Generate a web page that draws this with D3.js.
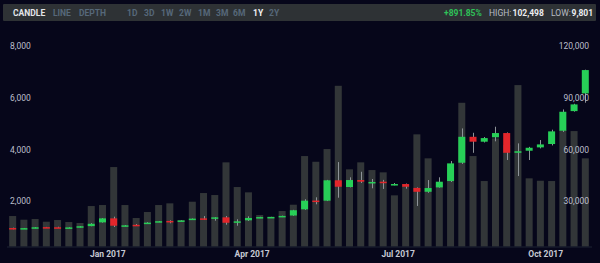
<!DOCTYPE html>
<html>
<head>
<meta charset="utf-8">
<script src="https://cdn.jsdelivr.net/npm/d3@7/dist/d3.min.js"></script>
<style>
  html, body { margin: 0; padding: 0; background: #06061a; }
  svg { display: block; font-family: Roboto, "Noto Sans", sans-serif; }
</style>
</head>
<body>
<script>
// weekly candles, one year
var weeks = ["2016-11-03","2016-11-10","2016-11-17","2016-11-24","2016-12-01","2016-12-08","2016-12-15","2016-12-22","2016-12-29",
  "2017-01-05","2017-01-12","2017-01-19","2017-01-26","2017-02-02","2017-02-09","2017-02-16","2017-02-23",
  "2017-03-02","2017-03-09","2017-03-16","2017-03-23","2017-03-30","2017-04-06","2017-04-13","2017-04-20","2017-04-27",
  "2017-05-04","2017-05-11","2017-05-18","2017-05-25","2017-06-01","2017-06-08","2017-06-15","2017-06-22","2017-06-29",
  "2017-07-06","2017-07-13","2017-07-20","2017-07-27","2017-08-03","2017-08-10","2017-08-17","2017-08-24","2017-08-31",
  "2017-09-07","2017-09-14","2017-09-21","2017-09-28","2017-10-05","2017-10-12","2017-10-19","2017-10-26"];

var opens  = [716,690,712,750,745,725,740,790,935,1090,790,840,900,950,990,985,1040,1090,1090,1130,950,1015,1110,1125,1150,1200,
  1440,1780,1775,2565,2305,2575,2470,2510,2395,2420,2270,2120,2290,2535,3245,4250,4060,4230,4395,3630,3710,3840,3970,4485,5245,5930];
var highs  = [730,718,750,758,765,745,792,905,1100,1155,830,870,940,985,1015,1015,1085,1180,1135,1180,1055,1170,1150,1150,1195,1420,
  1830,1905,2580,3270,2680,2895,2615,2580,2460,2440,2290,2575,2680,3310,4575,4405,4240,4640,4420,3995,3860,4125,4525,5310,5530,6850];
var lows   = [665,685,705,728,715,718,735,785,925,755,780,810,890,945,900,980,1035,1025,1000,845,805,990,1100,1115,1140,1190,
  1420,1635,1760,1890,2290,2460,2255,2230,2370,2240,1570,2080,2280,2500,3200,3630,4030,4075,3350,2730,3350,3800,3915,4440,5225,5570];
var closes = [680,712,745,735,725,740,785,880,1090,805,820,825,925,980,965,1010,1080,1070,1130,920,975,1105,1140,1145,1185,1405,
  1775,1740,2565,2315,2575,2510,2500,2470,2420,2315,2120,2265,2510,3220,4250,4060,4200,4395,3630,3690,3825,3955,4460,5220,5505,6835];
var volumes = [17710,15570,15970,14400,15390,14230,13650,23520,24100,46170,24100,16550,20040,24100,25090,15390,26020,31070,29910,
  48900,34560,31480,18300,17310,20620,24280,52560,49250,56630,93390,44840,48900,44430,43100,29740,35140,65170,51230,36880,44430,
  83520,52560,38040,62840,58950,93800,39610,38220,38040,67660,67080,51230];

var priceTicks = [2000,4000,6000,8000];
var volumeTicks = [30000,60000,90000,120000];
var monthTicks = ["2017-01-01","2017-04-01","2017-07-01","2017-10-01"];

var chartTypes = ["CANDLE","LINE","DEPTH"];
var ranges = ["1D","3D","1W","2W","1M","3M","6M","1Y","2Y"];

var w = 600,
    h = 263,
    base = 246.5,
    barW = 7;

var green = "#27cf57",
    red = "#e3262b";

var svg = d3.select("body").append("svg")
    .attr("width", w)
    .attr("height", h);

svg.append("rect").attr("width", w).attr("height", h).attr("fill", "#06061a");

var parse = d3.utcParse("%Y-%m-%d");

var x = d3.scaleUtc()
    .domain([parse("2017-01-01"), parse("2017-10-01")])
    .range([107.3, 545.2]);

var y = d3.scaleLinear().domain([0, 8000]).range([base, 40]);
var yv = d3.scaleLinear().domain([0, 120000]).range([base, 40]);

var data = weeks.map(function(d, i) {
  return {date: parse(d), o: opens[i], h: highs[i], l: lows[i], c: closes[i], v: volumes[i]};
});

// top toolbar
svg.append("rect")
    .attr("x", 3).attr("y", 4)
    .attr("width", 593).attr("height", 17)
    .attr("rx", 1)
    .attr("fill", "#2e3235");

var tb = svg.append("g").attr("font-size", 8.5).attr("font-weight", "bold");
var typeX = [13, 53, 79];
chartTypes.forEach(function(t, i) {
  tb.append("text").attr("x", typeX[i]).attr("y", 16)
    .attr("fill", i == 0 ? "#e4e6ea" : "#56687a").text(t);
});
var rangeX = [127, 144, 161, 179, 198, 216, 233, 253, 269];
ranges.forEach(function(t, i) {
  tb.append("text").attr("x", rangeX[i]).attr("y", 16)
    .attr("fill", t == "1Y" ? "#f2f3f5" : "#56687a").text(t);
});

var stats = svg.append("g").attr("font-size", 8.5);
stats.append("text").attr("x", 444).attr("y", 16).attr("font-weight", "bold").attr("fill", "#2fc259").text("+891.85%");
stats.append("text").attr("x", 489).attr("y", 16).attr("fill", "#b9bdc4").text("HIGH:");
stats.append("text").attr("x", 512.5).attr("y", 16).attr("font-weight", "bold").attr("fill", "#eceef1").text("102,498");
stats.append("text").attr("x", 551).attr("y", 16).attr("fill", "#b9bdc4").text("LOW:");
stats.append("text").attr("x", 571.5).attr("y", 16).attr("font-weight", "bold").attr("fill", "#eceef1").text("9,801");

// volume bars
svg.append("g").selectAll("rect")
    .data(data)
  .enter().append("rect")
    .attr("x", function(d) { return x(d.date) - barW / 2; })
    .attr("y", function(d) { return yv(d.v); })
    .attr("width", barW)
    .attr("height", function(d) { return base - yv(d.v); })
    .attr("fill", "#323638");

// baseline
svg.append("line")
    .attr("x1", 7).attr("x2", 592)
    .attr("y1", base + 0.5).attr("y2", base + 0.5)
    .style("stroke", "#1d2232");

// candles
var candle = svg.append("g").selectAll("g")
    .data(data)
  .enter().append("g");

candle.append("line")
    .attr("x1", function(d) { return Math.round(x(d.date)) + 0.5; })
    .attr("x2", function(d) { return Math.round(x(d.date)) + 0.5; })
    .attr("y1", function(d) { return y(d.h); })
    .attr("y2", function(d) { return y(d.l); })
    .style("stroke", "#8d9398")
    .style("stroke-width", 1);

candle.append("rect")
    .attr("x", function(d) { return x(d.date) - barW / 2; })
    .attr("y", function(d) { return y(Math.max(d.o, d.c)); })
    .attr("width", barW)
    .attr("height", function(d) { return Math.max(1.5, Math.abs(y(d.o) - y(d.c))); })
    .attr("fill", function(d) { return d.c >= d.o ? green : red; });

// left price labels
svg.append("g").selectAll("text")
    .data(priceTicks)
  .enter().append("text")
    .attr("x", 10)
    .attr("y", function(d) { return y(d) + 6.5; })
    .attr("dy", ".35em")
    .attr("font-size", 8.5)
    .attr("fill", "#bcbfcc")
    .text(d3.format(","));

// right volume labels
svg.append("g").selectAll("text")
    .data(volumeTicks)
  .enter().append("text")
    .attr("x", 589)
    .attr("y", function(d) { return yv(d) + 6.5; })
    .attr("dy", ".35em")
    .attr("text-anchor", "end")
    .attr("font-size", 8.5)
    .attr("fill", "#bcbfcc")
    .text(d3.format(","));

// x axis
var xAxis = d3.axisBottom(x)
    .tickValues(monthTicks.map(parse))
    .tickFormat(d3.utcFormat("%b %Y"))
    .tickSize(0)
    .tickPadding(4);

var ax = svg.append("g")
    .attr("transform", "translate(0," + base + ")")
    .call(xAxis);
ax.select(".domain").remove();
ax.selectAll("text")
    .attr("font-family", "Roboto, sans-serif")
    .attr("font-size", 8.5)
    .attr("font-weight", "bold")
    .attr("fill", "#c6c9d3");
</script>
</body>
</html>
